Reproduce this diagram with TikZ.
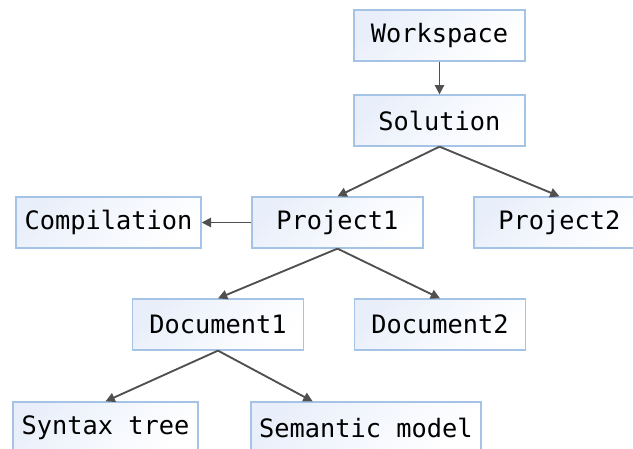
\documentclass[tikz,border=0pt]{standalone}
\usepackage{fontspec}
\setmonofont{DejaVu Sans Mono}
\usetikzlibrary{
positioning,
arrows.meta,
calc
}
\definecolor{boxline}{RGB}{165,195,228}
\definecolor{boxtint}{RGB}{233,239,250}
\definecolor{arrowgray}{RGB}{80,80,80}
\tikzset{
box/.style={
draw=boxline,
line width=1.2pt,
top color=boxtint,
bottom color=white,
shading angle=45,
align=center,
inner xsep=6.4pt,
minimum height=38pt,
minimum width=128pt,
font=\ttfamily\fontsize{19}{21}\selectfont
},
arrow/.style={
-{Triangle[length=7pt,width=7pt]},
draw=arrowgray,
fill=arrowgray,
line width=1.4pt
}
}

\begin{document}
\begin{tikzpicture}[x=0.75pt,y=-0.75pt]
\useasboundingbox (0,0) rectangle (633,449);
\clip (0,0) rectangle (633,449);

% one row per level of the tree
\node[box] (ws) at (439.5,35.5) {Workspace};
\node[box] (sol) at (439.5,120.5) {Solution};
\node[box] (comp) at (108.5,222.5) {Compilation};
\node[box] (p1) at (337.5,222.5) {Project1};
\node[box] (p2) at (559.5,222.5) {Project2};
\node[box] (doc1) at (218,324.5) {Document1};
\node[box] (doc2) at (440,324.5) {Document2};
\node[box] (syn) at (105.5,427.5) {Syntax tree};
\node[box] (sem) at (366,427.5) {Semantic model};

\draw[arrow] (ws) -- (sol);
\draw[arrow] (sol.south) -- (p1.north);
\draw[arrow] (sol.south) -- (p2.north);
\draw[arrow] (p1) -- (comp);
\draw[arrow] (p1.south) -- (doc1.north);
\draw[arrow] (p1.south) -- (doc2.north);
\draw[arrow] (doc1.south) -- (syn.north);
\draw[arrow] (doc1.south) -- ([xshift=-40pt]sem.north);
\end{tikzpicture}
\end{document}
